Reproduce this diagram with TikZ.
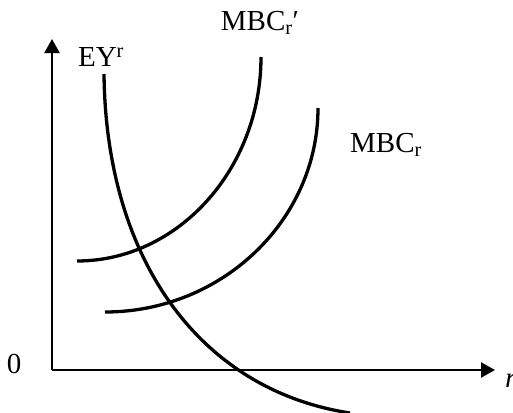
\documentclass[tikz,border=0pt]{standalone}
\usepackage{fontspec}
\setmainfont{Liberation Serif}
\usetikzlibrary{positioning, arrows.meta}

\begin{document}
\begin{tikzpicture}[
        x=1pt, y=-1pt,
        axis/.style={line width=2.2pt, -{Triangle[length=14pt, width=15pt]}},
        curve/.style={line width=3.3pt},
        lbl/.style={font=\fontsize{29}{34}\selectfont, inner sep=0pt}
    ]
    \useasboundingbox (0,0) rectangle (513,412);
    % Axes
    \coordinate (o) at (52,370);
    \coordinate (ytop) at (52,39);
    \coordinate (xend) at (495,370);
    \draw[axis] (o) -- (ytop);
    \draw[axis] (o) -- (xend);
    \node[lbl] (zero) at (14,364) {0};
    \node[lbl, anchor=north west] (rlab) at (505,374) {\textit{r}};
    % EY^r curve
    \coordinate (ey1) at (104,74);
    \coordinate (ey2) at (350,413);
    \draw[curve] (ey1) .. controls (106,260) and (200,390) .. (ey2);
    \node[lbl] (eylab) at (101,57) {EY\textsuperscript{r}};
    % MBC_r' curve
    \coordinate (mp1) at (77,261);
    \coordinate (mp2) at (261,57);
    \draw[curve] (mp1) .. controls (178,261) and (261,169) .. (mp2);
    \node[lbl] (mplab) at (260,23) {MBC\textsubscript{r}′};
    % MBC_r curve
    \coordinate (m1) at (105,312);
    \coordinate (m2) at (318,108);
    \draw[curve] (m1) .. controls (222,312) and (318,220) .. (m2);
    \node[lbl] (mlab) at (386,145) {MBC\textsubscript{r}};
\end{tikzpicture}
\end{document}
